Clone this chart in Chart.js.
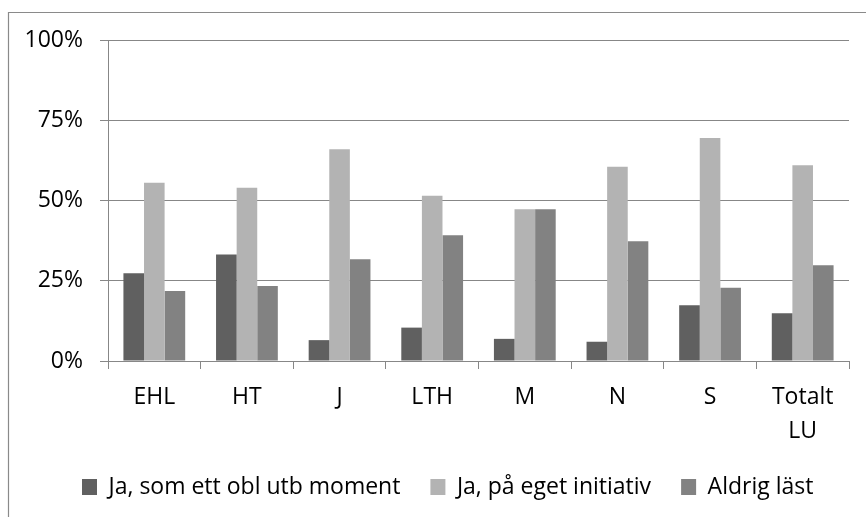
<!DOCTYPE html>
<html>
<head>
<meta charset="utf-8">
<script src="https://cdn.jsdelivr.net/npm/chart.js@4"></script>
<style>
  html, body { margin: 0; padding: 0; background: #fff; }
  #wrap { position: relative; width: 866px; height: 517px; }
</style>
</head>
<body>
<div id="wrap"><canvas id="chart" width="866" height="517"></canvas></div>
<script>
const categories = ['EHL', 'HT', 'J', 'LTH', 'M', 'N', 'S', ['Totalt', 'LU']]
const seriesNames = ['Ja, som ett obl utb moment', 'Ja, på eget initiativ', 'Aldrig läst']
const oblMoment = [27.3, 33.2, 6.5, 10.4, 6.9, 6.0, 17.4, 14.9]
const egetInitiativ = [55.5, 54.0, 66.0, 51.5, 47.3, 60.5, 69.5, 61.0]
const aldrigLast = [21.8, 23.4, 31.7, 39.2, 47.3, 37.3, 22.8, 29.8]
const yTicks = [0, 25, 50, 75, 100]

const gridColor = '#878787'
const font = { family: "'Open Sans', sans-serif", size: 23 }

// thin frame around the chart, only left and top edges are visible in the picture
const framePlugin = {
  id: 'frame',
  beforeDraw(chart) {
    const ctx = chart.ctx
    ctx.save()
    ctx.strokeStyle = '#8a8a8a'
    ctx.lineWidth = 1.2
    ctx.beginPath()
    ctx.moveTo(8.5, chart.height)
    ctx.lineTo(8.5, 12.5)
    ctx.lineTo(chart.width, 12.5)
    ctx.stroke()
    ctx.restore()
  }
}

// legend starts further right than the y axis box
const legendShift = {
  id: 'legendShift',
  afterLayout(chart) { chart.legend.left += 37 }
}

Chart.defaults.color = '#000'
Chart.defaults.font.family = font.family

new Chart(document.getElementById('chart'), {
  type: 'bar',
  data: {
    labels: categories,
    datasets: [
      { label: seriesNames[0], data: oblMoment, backgroundColor: '#606060' },
      { label: seriesNames[1], data: egetInitiativ, backgroundColor: '#b3b3b3' },
      { label: seriesNames[2], data: aldrigLast, backgroundColor: '#828282' },
    ],
  },
  options: {
    responsive: false,
    animation: false,
    devicePixelRatio: 1,
    layout: { padding: { left: 15, right: 17, top: 40, bottom: 8.5 } },
    datasets: { bar: { categoryPercentage: 0.667, barPercentage: 1, borderWidth: 0 } },
    scales: {
      x: {
        grid: { drawOnChartArea: false, offset: true, tickLength: 8, color: gridColor },
        border: { color: gridColor },
        ticks: { font: { ...font, lineHeight: 1.47 }, padding: 12, maxRotation: 0, autoSkip: false },
        afterFit: s => { s.height = 84.5 },
      },
      y: {
        min: 0,
        max: 100,
        afterBuildTicks: s => { s.ticks = yTicks.map(v => ({ value: v })) },
        grid: { color: gridColor, tickLength: 8 },
        border: { color: gridColor },
        ticks: { font, padding: 17, callback: v => v + '%' },
        afterFit: s => { s.width = 93 },
      },
    },
    plugins: {
      legend: {
        position: 'bottom',
        align: 'start',
        labels: { font, boxWidth: 15, boxHeight: 16, padding: 30 },
      },
      tooltip: { enabled: false },
    },
  },
  plugins: [framePlugin, legendShift],
})
</script>
</body>
</html>
